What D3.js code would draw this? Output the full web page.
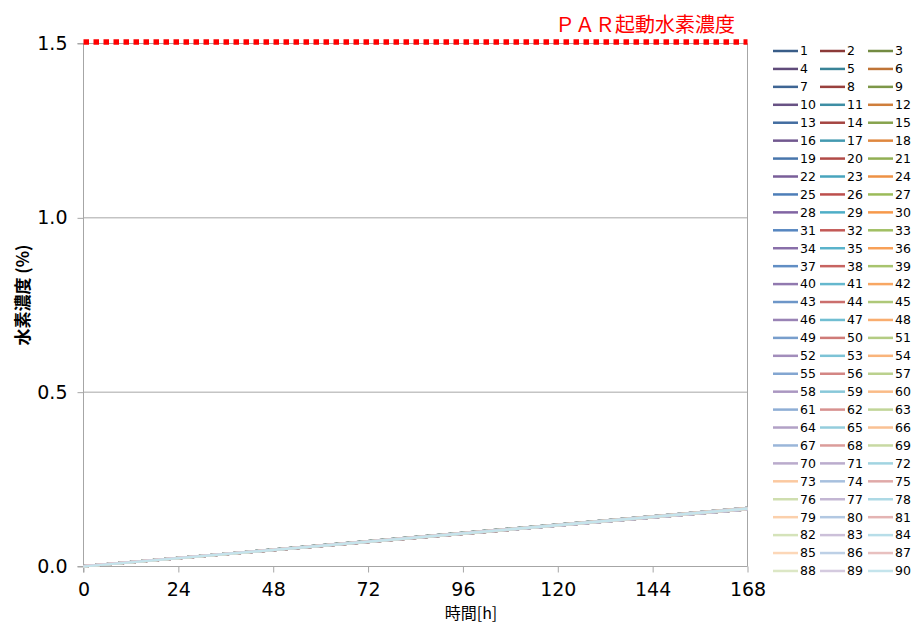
<!DOCTYPE html>
<html>
<head>
<meta charset="utf-8">
<script src="https://cdn.jsdelivr.net/npm/d3@7"></script>
<style>
html,body{margin:0;padding:0;background:#fff;}
svg{display:block;}
</style>
</head>
<body>
<svg id="chart" width="914" height="626"></svg>
<script>
// ---- data ----
const xTicks = [0, 24, 48, 72, 96, 120, 144, 168];
const yTicks = [0.0, 0.5, 1.0, 1.5];
const times = [0, 168];
const seriesNames = d3.range(1, 91).map(String);
const startValues = [
  0.001,0.000,0.001,0.000,0.001,0.000,0.001,0.000,0.001,0.000,
  0.000,0.001,0.000,0.001,0.000,0.001,0.000,0.001,0.000,0.001,
  0.001,0.000,0.001,0.000,0.001,0.000,0.001,0.000,0.001,0.000,
  0.000,0.001,0.000,0.001,0.000,0.001,0.000,0.001,0.000,0.001,
  0.001,0.000,0.001,0.000,0.001,0.000,0.001,0.000,0.001,0.000,
  0.000,0.001,0.000,0.001,0.000,0.001,0.000,0.001,0.000,0.001,
  0.001,0.000,0.001,0.000,0.001,0.000,0.001,0.000,0.001,0.000,
  0.000,0.001,0.000,0.001,0.000,0.001,0.000,0.001,0.000,0.001,
  0.001,0.000,0.001,0.000,0.001,0.000,0.001,0.000,0.001,0.000
];
const endValues = [
  0.168,0.164,0.167,0.165,0.166,0.164,0.168,0.165,0.167,0.164,
  0.166,0.168,0.165,0.164,0.167,0.166,0.165,0.168,0.164,0.166,
  0.167,0.165,0.164,0.168,0.166,0.165,0.167,0.164,0.166,0.168,
  0.165,0.167,0.164,0.166,0.168,0.165,0.164,0.167,0.166,0.165,
  0.168,0.164,0.166,0.167,0.165,0.164,0.168,0.166,0.165,0.167,
  0.164,0.166,0.168,0.165,0.167,0.164,0.166,0.165,0.168,0.167,
  0.165,0.164,0.166,0.168,0.167,0.165,0.164,0.166,0.167,0.165,
  0.168,0.164,0.166,0.165,0.167,0.166,0.164,0.165,0.168,0.166,
  0.165,0.167,0.164,0.166,0.165,0.167,0.166,0.165,0.166,0.166
];
const thresholdValue = 1.5;
const thresholdLabel = "ＰＡＲ起動水素濃度";
const xTitle = "時間[h]";
const yTitle = "水素濃度 (%)";
const baseColors = ["#4F81BD", "#C0504D", "#9BBB59", "#8064A2", "#4BACC6", "#F79646"];

// ---- layout ----
const svg = d3.select("#chart");
const L = 83.5, R = 747.5, T = 43.5, B = 566.5;
const x = d3.scaleLinear().domain([0, 168]).range([L, R]);
const y = d3.scaleLinear().domain([0, 1.5]).range([B, T]);

function shade(hex, t) {
  const c = d3.rgb(hex);
  const f = v => t < 0 ? v * (1 + t) : v + (255 - v) * t;
  return d3.rgb(f(c.r), f(c.g), f(c.b)).formatHex();
}
function seriesColor(i) {
  // Excel-like palette cycling; the cycle shifts by one after the 70th series
  const k = i < 70 ? i : i - 1;
  const t = -0.28 + (i / 89) * 0.95;
  return shade(baseColors[k % 6], t);
}

const axisColor = "#a6a6a6";

// gridlines
svg.append("g").selectAll("line").data(yTicks.filter(v => v > 0 && v < 1.5)).join("line")
  .attr("x1", L).attr("x2", R).attr("y1", d => y(d)).attr("y2", d => y(d))
  .attr("stroke", axisColor).attr("stroke-width", 1);

// plot border top/right
svg.append("line").attr("x1", L - 6).attr("x2", R).attr("y1", T).attr("y2", T).attr("stroke", axisColor);
svg.append("line").attr("x1", R).attr("x2", R).attr("y1", T).attr("y2", B).attr("stroke", axisColor);

// axes
const yAxis = d3.axisLeft(y).tickValues(yTicks).tickFormat(d3.format(".1f")).tickSize(6).tickPadding(10);
const gy = svg.append("g").attr("transform", `translate(${L},0)`).call(yAxis);
const xAxis = d3.axisBottom(x).tickValues(xTicks).tickFormat(d3.format("d")).tickSize(6).tickPadding(10);
const gx = svg.append("g").attr("transform", `translate(0,${B})`).call(xAxis);
[gx, gy].forEach(g => {
  g.select(".domain").attr("stroke", axisColor);
  g.selectAll(".tick line").attr("stroke", axisColor);
  g.selectAll("text").attr("fill", "#000").style("font-family", "'DejaVu Sans', Verdana, sans-serif").style("font-size", "19px");
});
gy.select(".domain").attr("d", `M0,${T}V${B + 6}`);
gx.select(".domain").attr("d", `M${L - 6},0H${R}`);

// series lines
const line = d3.line().x(d => x(d[0])).y(d => y(d[1]));
const series = seriesNames.map((n, i) => ({
  name: n, color: seriesColor(i),
  pts: times.map((t, k) => [t, k === 0 ? startValues[i] : endValues[i]])
}));
svg.append("g").selectAll("path").data(series).join("path")
  .attr("d", d => line(d.pts)).attr("fill", "none")
  .attr("stroke", d => d.color).attr("stroke-width", 2.25);

// threshold line
svg.append("line").attr("x1", x(0)).attr("x2", x(168)).attr("y1", y(thresholdValue) - 1.5).attr("y2", y(thresholdValue) - 1.5)
  .attr("stroke", "#ff0000").attr("stroke-width", 5.5).attr("stroke-dasharray", "5.5,4.5");
svg.append("text").attr("x", 735).attr("y", 32).attr("text-anchor", "end")
  .attr("fill", "#ff0000").style("font-family", "'Noto Sans CJK JP', sans-serif").style("font-size", "20px")
  .text(thresholdLabel);

// axis titles
svg.append("text").attr("transform", "translate(29,295) rotate(-90)").attr("text-anchor", "middle")
  .style("font-family", "'Noto Sans CJK JP', sans-serif").style("font-size", "17px").style("font-weight", "bold")
  .text(yTitle);
svg.append("text").attr("x", 471).attr("y", 619).attr("text-anchor", "middle")
  .style("font-family", "'Noto Sans CJK JP', sans-serif").style("font-size", "16px")
  .text(xTitle);

// legend
const legX = [773, 820, 868], legY0 = 51, legDY = 17.93;
const leg = svg.append("g").selectAll("g").data(series).join("g")
  .attr("transform", (d, i) => `translate(${legX[i % 3]},${legY0 + Math.floor(i / 3) * legDY})`);
leg.append("line").attr("x1", 0).attr("x2", 25).attr("y1", 0).attr("y2", 0)
  .attr("stroke", d => d.color).attr("stroke-width", 2.5);
leg.append("text").attr("x", 27).attr("y", 0).attr("dy", "0.35em")
  .style("font-family", "'DejaVu Sans', Verdana, sans-serif").style("font-size", "12.5px").attr("fill", "#000")
  .text(d => d.name);
</script>
</body>
</html>
